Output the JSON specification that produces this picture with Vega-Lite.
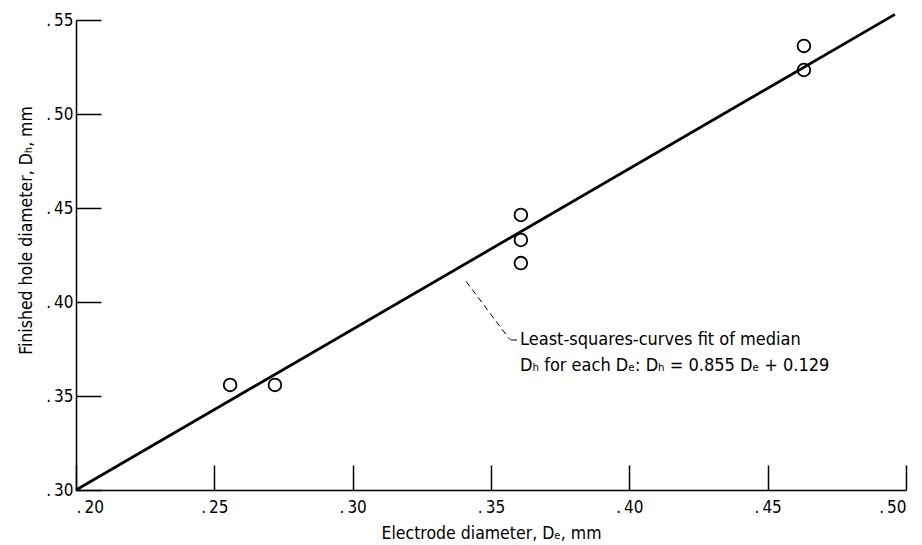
{
  "$schema": "https://vega.github.io/schema/vega-lite/v6.json",
  "width": 830,
  "height": 470,
  "autosize": {"type": "none"},
  "padding": {"left": 76, "top": 20, "right": 16, "bottom": 55},
  "background": "white",
  "config": {
    "view": {"stroke": null},
    "font": "'Liberation Sans Narrow', 'DejaVu Sans Condensed', 'Roboto Condensed', 'Liberation Sans', sans-serif",
    "axis": {
      "grid": false,
      "domainColor": "black",
      "domainWidth": 1.5,
      "tickColor": "black",
      "tickWidth": 1.5,
      "tickSize": -25,
      "labelColor": "black",
      "labelFontSize": 17,
      "titleColor": "black",
      "titleFontSize": 17.5,
      "titleFontWeight": "normal",
      "labelExpr": "'.\u2009' + slice(format(datum.value, '.2f'), 2)"
    }
  },
  "datasets": {
    "fit": [
      {"x": 0.2, "y": 0.3},
      {"x": 0.496, "y": 0.553}
    ],
    "points": [
      {"x": 0.2557, "y": 0.3559},
      {"x": 0.2719, "y": 0.3559},
      {"x": 0.3608, "y": 0.4463},
      {"x": 0.3608, "y": 0.433},
      {"x": 0.3608, "y": 0.4207},
      {"x": 0.4631, "y": 0.5362},
      {"x": 0.4631, "y": 0.5234}
    ],
    "leader": [
      {"x": 0.341, "y": 0.411},
      {"x": 0.3562, "y": 0.3812}
    ],
    "tail": [
      {"x": 0.3562, "y": 0.3812},
      {"x": 0.3574, "y": 0.3798},
      {"x": 0.3594, "y": 0.3798}
    ],
    "notes": [
      {"x": 0.3605, "y": 0.3798, "label": "Least-squares-curves fit of median"},
      {"x": 0.3605, "y": 0.3662, "label": "Dₕ for each Dₑ: Dₕ = 0.855 Dₑ + 0.129"}
    ]
  },
  "encoding": {
    "x": {
      "field": "x",
      "type": "quantitative",
      "scale": {"domain": [0.2, 0.5], "nice": false, "zero": false},
      "axis": {
        "title": "Electrode diameter, Dₑ, mm",
        "values": [0.2, 0.25, 0.3, 0.35, 0.4, 0.45, 0.5],
        "labelPadding": 34,
        "titleY": 43,
        "titleBaseline": "middle"
      }
    },
    "y": {
      "field": "y",
      "type": "quantitative",
      "scale": {"domain": [0.3, 0.55], "nice": false, "zero": false},
      "axis": {
        "title": "Finished hole diameter, Dₕ, mm",
        "values": [0.3, 0.35, 0.4, 0.45, 0.5, 0.55],
        "labelPadding": 28,
        "titleX": -50,
        "titleY": 210,
        "titleBaseline": "middle"
      }
    }
  },
  "layer": [
    {
      "data": {"name": "fit"},
      "mark": {"type": "line", "color": "black", "strokeWidth": 2.8}
    },
    {
      "data": {"name": "points"},
      "mark": {"type": "point", "shape": "circle", "filled": false, "size": 160, "strokeWidth": 1.8, "color": "black", "opacity": 1}
    },
    {
      "data": {"name": "leader"},
      "mark": {"type": "line", "color": "black", "strokeWidth": 1, "strokeDash": [6, 4]}
    },
    {
      "data": {"name": "tail"},
      "mark": {"type": "line", "color": "black", "strokeWidth": 1, "interpolate": "monotone"}
    },
    {
      "data": {"name": "notes"},
      "mark": {"type": "text", "align": "left", "baseline": "middle", "fontSize": 18, "color": "black"},
      "encoding": {"text": {"field": "label"}}
    }
  ]
}
